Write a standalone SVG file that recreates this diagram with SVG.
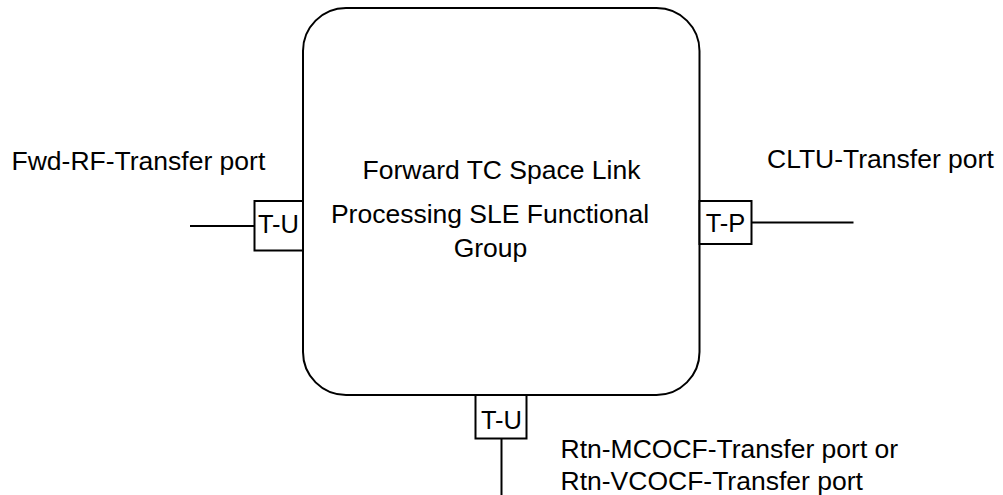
<svg xmlns="http://www.w3.org/2000/svg" width="1003" height="495" viewBox="0 0 1003 495">
<style>
.shape{fill:#fff;stroke:#000;stroke-width:2}
.line{fill:none;stroke:#000;stroke-width:2}
.t{font-family:"Liberation Sans",Arial,sans-serif;font-size:26.5px;fill:#000}
.p{font-family:"Liberation Sans",Arial,sans-serif;font-size:25.5px;fill:#000;text-anchor:middle}
</style>
<rect width="1003" height="495" fill="#fff"/>
<g id="connectors">
<line class="line" x1="190" y1="226" x2="254.5" y2="226"/>
<line class="line" x1="751.5" y1="222.5" x2="853.5" y2="222.5"/>
<line class="line" x1="501.5" y1="438.5" x2="501.5" y2="495"/>
</g>
<g id="functional-group">
<rect class="shape" x="303" y="8" width="396.5" height="387" rx="43" ry="43"/>
<text class="t" x="501.5" y="179" text-anchor="middle">Forward TC Space Link</text>
<text class="t" x="490" y="222.5" text-anchor="middle">Processing SLE Functional</text>
<text class="t" x="490.5" y="257" text-anchor="middle">Group</text>
</g>
<g id="port-fwd-rf">
<rect class="shape" x="254.5" y="201" width="48.5" height="49.5"/>
<text class="p" x="278.5" y="233">T-U</text>
<text class="t" x="11.5" y="169.5">Fwd-RF-Transfer port</text>
</g>
<g id="port-cltu">
<rect class="shape" x="699.5" y="201" width="52" height="43"/>
<text class="p" x="725.5" y="232">T-P</text>
<text class="t" x="767" y="168">CLTU-Transfer port</text>
</g>
<g id="port-rtn-ocf">
<rect class="shape" x="475.5" y="395" width="51" height="43.5"/>
<text class="p" x="501.5" y="428.5">T-U</text>
<text class="t" x="560.5" y="457.5">Rtn-MCOCF-Transfer port or</text>
<text class="t" x="560.5" y="489.5">Rtn-VCOCF-Transfer port</text>
</g>
</svg>
